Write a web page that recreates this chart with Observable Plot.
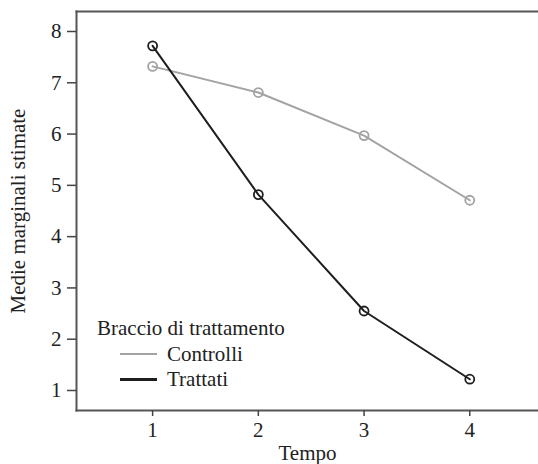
<!DOCTYPE html>
<html>
<head>
<meta charset="utf-8">
<script src="https://cdn.jsdelivr.net/npm/d3@7"></script>
<script src="https://cdn.jsdelivr.net/npm/@observablehq/plot@0.6"></script>
<style>
  html, body { margin: 0; padding: 0; background: #fff; }
  #wrap { position: relative; width: 538px; height: 464px; font-family: "Liberation Serif", "DejaVu Serif", serif; }
  #wrap svg, #wrap svg text { font-family: "Liberation Serif", "DejaVu Serif", serif !important; font-size: 21px; }
  #legend { position: absolute; left: 97px; top: 316px; font-size: 21px; color: #222; line-height: 25.5px; }
  #legend .row { display: flex; align-items: center; padding-left: 23px; }
  #legend .sw { display: inline-block; width: 37px; height: 0; margin-right: 10px; }
</style>
</head>
<body>
<div id="wrap"></div>
<script>
const tempo = [1, 2, 3, 4];
const controlli = [7.32, 6.81, 5.97, 4.71];
const trattati = [7.72, 4.82, 2.55, 1.22];
const series = ["Controlli", "Trattati"];
const colors = ["#a3a3a3", "#1e1e1e"];
const yTicks = [1, 2, 3, 4, 5, 6, 7, 8];
const xTicks = [1, 2, 3, 4];

const data = [
  ...tempo.map((t, i) => ({tempo: t, valore: controlli[i], braccio: series[0]})),
  ...tempo.map((t, i) => ({tempo: t, valore: trattati[i], braccio: series[1]}))
];

const chart = Plot.plot({
  width: 538,
  height: 464,
  marginLeft: 76,
  marginRight: 0,
  marginTop: 11,
  marginBottom: 54,
  style: {fontFamily: "'Liberation Serif', 'DejaVu Serif', serif", fontSize: "21px", color: "#222", background: "#fff"},
  x: {domain: [0.28, 4.65]},
  y: {domain: [0.61, 8.39]},
  color: {domain: series, range: colors},
  marks: [
    Plot.frame({anchor: "top", stroke: "#555", strokeWidth: 2}),
    Plot.frame({anchor: "left", stroke: "#555", strokeWidth: 2}),
    Plot.frame({anchor: "bottom", stroke: "#555", strokeWidth: 2}),
    Plot.axisY(yTicks, {ticks: yTicks, tickFormat: "d", tickSize: 9, tickPadding: 6, stroke: "#444", strokeWidth: 1.5, fill: "#222", fontSize: 21,
      label: "Medie marginali stimate", labelAnchor: "center", labelArrow: "none", labelOffset: 66}),
    Plot.axisX(xTicks, {ticks: xTicks, tickFormat: "d", tickSize: 6, tickPadding: 6, stroke: "#444", strokeWidth: 1.5, fill: "#222", fontSize: 21,
      label: "Tempo", labelAnchor: "center", labelArrow: "none", labelOffset: 49}),
    Plot.line(data, {x: "tempo", y: "valore", z: "braccio", stroke: "braccio", strokeWidth: 2}),
    Plot.dot(data, {x: "tempo", y: "valore", stroke: "braccio", r: 4.5, strokeWidth: 1.8, fill: "none"})
  ]
});

const wrap = document.getElementById("wrap");
wrap.appendChild(chart);

const legend = document.createElement("div");
legend.id = "legend";
legend.innerHTML = `<div>Braccio di trattamento</div>` +
  series.map((s, i) => `<div class="row"><span class="sw" style="border-top:${i ? 3 : 2.5}px solid ${colors[i]}"></span>${s}</div>`).join("");
wrap.appendChild(legend);
</script>
</body>
</html>
